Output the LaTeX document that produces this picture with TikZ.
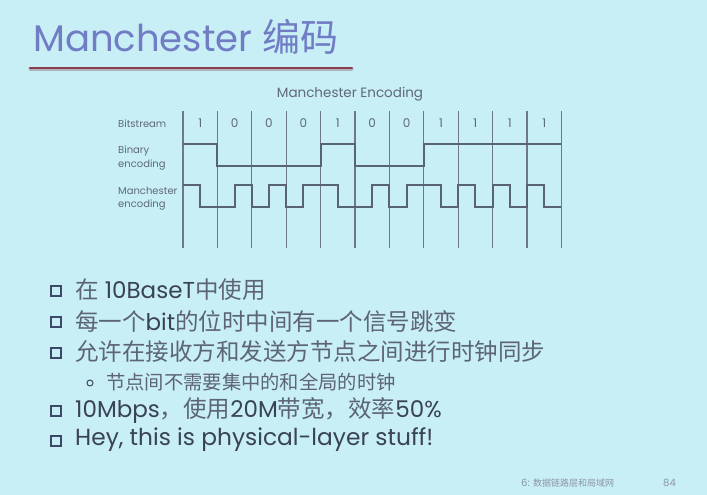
\documentclass[tikz,border=0pt]{standalone}
\usepackage{fontspec}
\setmainfont{Poppins}
\newfontfamily\cjk{Noto Sans CJK SC}
\definecolor{slidebg}{RGB}{200,238,246}
\definecolor{titleblue}{RGB}{112,124,196}
\definecolor{rulered}{RGB}{140,62,78}
\definecolor{wave}{RGB}{88,100,118}
\definecolor{gridline}{RGB}{110,120,135}
\definecolor{lbl}{RGB}{95,105,120}
\definecolor{bodytxt}{RGB}{58,66,86}
\definecolor{cjktxt}{RGB}{92,100,118}
\definecolor{bulletcol}{RGB}{62,72,104}
\definecolor{foot}{RGB}{140,150,162}
\tikzset{
  txt/.style={inner sep=0pt, anchor=west},
  bodyline/.style={txt, text=bodytxt, font=\fontsize{23}{26}\selectfont},
  subline/.style={txt, text=cjktxt, font=\fontsize{19}{22}\selectfont},
  sqbullet/.style={draw=bulletcol, line width=1.5pt, minimum size=10pt, inner sep=0pt},
  rndbullet/.style={circle, draw=bulletcol, line width=1pt, minimum size=6pt, inner sep=0pt},
  gridln/.style={draw=gridline, line width=1.1pt},
  waveln/.style={draw=wave, line width=2pt, line join=miter},
  sidelbl/.style={txt, text=lbl, font=\fontsize{10}{11}\selectfont},
  bitlbl/.style={inner sep=0pt, text=lbl, font=\fontsize{12}{13}\selectfont},
}
% Chinese runs inside the body text: slightly larger than the Latin run
\newcommand{\zh}[1]{{\cjk\color{cjktxt}\fontsize{23.5}{26}\selectfont#1}}
\begin{document}
\begin{tikzpicture}[x=1pt,y=-1pt]
  \fill[slidebg] (0,0) rectangle (707,495);
  \useasboundingbox (0,0) rectangle (707,495);

  % slide title and its underline
  \node[inner sep=0pt, anchor=base west, text=titleblue, font=\fontsize{37}{40}\selectfont]
    (title) at (33,52) {Manchester {\cjk\fontsize{38}{40}\selectfont 编码}};
  \coordinate (ulA) at (30,68);
  \coordinate (ulB) at (352,68);
  \draw[rulered!60!gray, opacity=0.4, line width=3pt, line cap=round] ([yshift=-1.5pt]ulA) -- ([yshift=-1.5pt]ulB);
  \draw[rulered, line width=2.6pt, line cap=round] (ulA) -- (ulB);

  % timing diagram
  \node[inner sep=0pt, text=lbl, font=\fontsize{13.5}{15}\selectfont] (dtitle) at (350,94) {Manchester Encoding};
  \node[sidelbl] (lbits) at (118,124) {Bitstream};
  \node[sidelbl] (lbin1) at (118,151) {Binary};
  \node[sidelbl] (lbin2) at (118,165) {encoding};
  \node[sidelbl] (lman1) at (118,191) {Manchester};
  \node[sidelbl] (lman2) at (118,205) {encoding};

  \begin{scope}[x=34.4pt, y=-1pt, shift={(183pt,-111pt)}]
    \foreach \i in {0,...,11} \draw[gridln] (\i,0) -- (\i,137);
    \foreach \b [count=\i from 0] in {1,0,0,0,1,0,0,1,1,1,1}
      \node[bitlbl] (bit\i) at (\i+0.5,12) {\b};
    % NRZ levels
    \draw[waveln] (0,33) -- (1,33) -- (1,55) -- (4,55) -- (4,33) -- (5,33) -- (5,55)
      -- (7,55) -- (7,33) -- (11,33);
    % Manchester levels: 1 = high then low, 0 = low then high
    \draw[waveln] (0,74) -- (0.5,74) -- (0.5,96) -- (1.5,96) -- (1.5,74) -- (2,74)
      -- (2,96) -- (2.5,96) -- (2.5,74) -- (3,74) -- (3,96) -- (3.5,96) -- (3.5,74)
      -- (4.5,74) -- (4.5,96) -- (5.5,96) -- (5.5,74) -- (6,74) -- (6,96) -- (6.5,96)
      -- (6.5,74) -- (7.5,74) -- (7.5,96) -- (8,96) -- (8,74) -- (8.5,74) -- (8.5,96)
      -- (9,96) -- (9,74) -- (9.5,74) -- (9.5,96) -- (10,96) -- (10,74) -- (10.5,74)
      -- (10.5,96) -- (11,96);
  \end{scope}

  % bullet list
  \node[sqbullet] (b1) at (56,291) {};
  \node[bodyline] (t1) at (75,290) {\zh{在} 10BaseT\zh{中使用}};
  \node[sqbullet] (b2) at (56,322) {};
  \node[bodyline] (t2) at (75,321) {\zh{每一个}bit\zh{的位时中间有一个信号跳变}};
  \node[sqbullet] (b3) at (56,353) {};
  \node[bodyline] (t3) at (75,352) {\zh{允许在接收方和发送方节点之间进行时钟同步}};
  \node[rndbullet] (b4) at (90,383) {};
  \node[subline] (t4) at (106,382) {\zh{\fontsize{19.3}{22}\selectfont 节点间不需要集中的和全局的时钟}};
  \node[sqbullet] (b5) at (56,411) {};
  \node[bodyline] (t5) at (75,410) {10Mbps\zh{，使用}20M\zh{带宽，效率}50\%};
  \node[sqbullet] (b6) at (56,441) {};
  \node[bodyline, font=\fontsize{23.3}{26}\selectfont] (t6) at (75,440) {Hey, this is physical-layer stuff!};

  % footer
  \node[txt, text=foot, font=\fontsize{10}{11}\selectfont] (foot) at (521,483) {6: {\cjk\fontsize{9}{10}\selectfont 数据链路层和局域网}};
  \node[txt, text=foot, font=\fontsize{10}{11}\selectfont] (page) at (663,483) {84};
\end{tikzpicture}
\end{document}
